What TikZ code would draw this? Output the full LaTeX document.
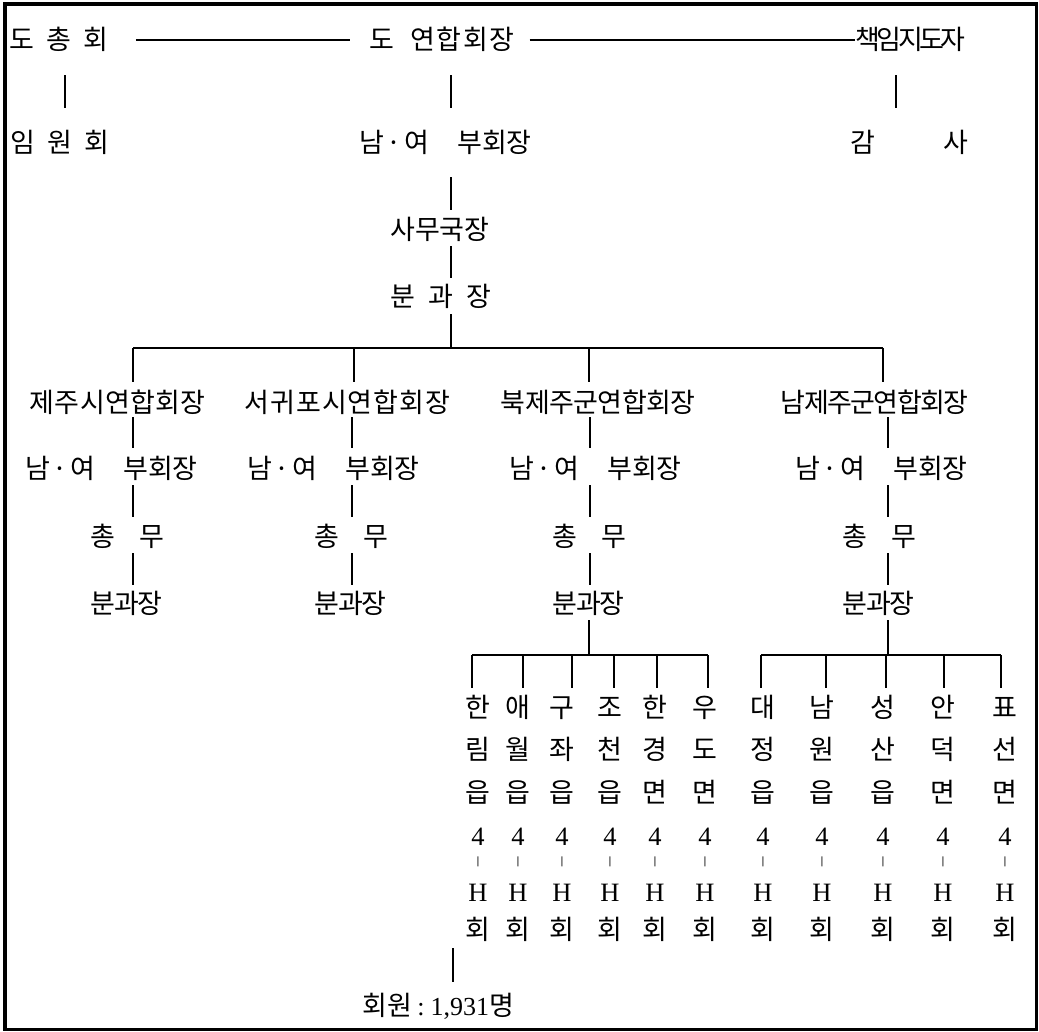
\documentclass[tikz,border=0pt]{standalone}
\usepackage{fontspec}
\setmainfont{Noto Sans CJK KR}
\newfontfamily\lat{Liberation Serif}
\newfontfamily\djv{DejaVu Sans}
\begin{document}
\begin{tikzpicture}[x=1pt,y=-1pt,
  lab/.style={inner sep=0pt, anchor=west, font=\fontsize{27}{30}\selectfont, text height=21pt, text depth=2pt},
  ch/.style={inner sep=0pt, font=\fontsize{27}{30}\selectfont, text height=21pt, text depth=2pt},
  la/.style={inner sep=0pt, font=\lat\fontsize{26.5}{30}\selectfont, text height=21pt, text depth=2pt},
  tick/.style={inner sep=0pt, font=\djv\fontsize{10}{12}\selectfont},
  con/.style={line width=1.3pt}]
\useasboundingbox (0,0) rectangle (1039,1032);
% frame
\draw[line width=3.5pt] (5,2.5) -- (5,1030.5);
\draw[line width=3.5pt] (3.5,4) -- (1037.5,4);
\draw[line width=2.5pt] (1036.5,2.5) -- (1036.5,1030.5);
\draw[line width=2.5pt] (3.5,1029.5) -- (1037.5,1029.5);
% top rows
\node[lab] (dch) at (9.6,40) {도\kern12pt총\kern12pt회};
\node[lab] (dyh) at (369.6,40) {도\kern16pt연\kern1.5pt합\kern1.5pt회\kern1.5pt장};
\node[lab] (cij) at (855.6,40) {책\kern-3.7pt임\kern-3.7pt지\kern-3.7pt도\kern-3.7pt자};
\node[lab] (iwh) at (10.6,143) {임\kern12pt원\kern12pt회};
\node[lab] (nyb) at (359.6,143) {남\kern2pt·\kern3.2pt여\hspace{28pt}부\kern-0.5pt회\kern-0.5pt장};
\node[lab] (gs) at (850.6,143) {감\kern68pt사};
\node[lab] (smk) at (390.6,230) {사\kern-0.3pt무\kern-0.3pt국\kern-0.3pt장};
\node[lab] (bgj) at (390.6,297) {분\kern13pt과\kern13pt장};
\draw[con, shorten <=27.4pt, shorten >=19.6pt] (dch.east) -- (dyh.west);
\draw[con, shorten <=15pt, shorten >=0.6pt] (dyh.east) -- (cij.west);
\coordinate (v1) at (65,0);
\coordinate (v2) at (451,0);
\coordinate (v3) at (896,0);
\draw[con, shorten <=23.5pt, shorten >=23.5pt] (v1 |- dch.south) -- (v1 |- iwh.north);
\draw[con, shorten <=23.5pt, shorten >=23.5pt] (v2 |- dyh.south) -- (v2 |- nyb.north);
\draw[con, shorten <=23.5pt, shorten >=23.5pt] (v3 |- cij.south) -- (v3 |- gs.north);
\draw[con, shorten <=22.5pt, shorten >=8.5pt] (v2 |- nyb.south) -- (v2 |- smk.north);
\draw[con, shorten <=4.5pt, shorten >=7.5pt] (v2 |- smk.south) -- (v2 |- bgj.north);
% main bar
\coordinate (tc) at (451,348);
\coordinate (t1) at (133,348);
\coordinate (t2) at (354,348);
\coordinate (t3) at (589,348);
\coordinate (t4) at (883,348);
\draw[con] (t1) -- (t4);
\draw[con, shorten >=5.5pt] (tc) -- (tc |- bgj.south);
% branches
\node[lab] (h1) at (29.6,403) {제\kern0.3pt주\kern0.3pt시\kern0.3pt연\kern0.3pt합\kern0.3pt회\kern0.3pt장};
\node[lab] (h2) at (244.3,403) {서\kern1pt귀\kern1pt포\kern1pt시\kern1pt연\kern1pt합\kern1pt회\kern1pt장};
\node[lab] (h3) at (500.6,403) {북\kern-0.6pt제\kern-0.6pt주\kern-0.6pt군\kern-0.6pt연\kern-0.6pt합\kern-0.6pt회\kern-0.6pt장};
\node[lab] (h4) at (780.6,403) {남\kern-1.6pt제\kern-1.6pt주\kern-1.6pt군\kern-1.6pt연\kern-1.6pt합\kern-1.6pt회\kern-1.6pt장};
\foreach \i/\xn/\xm/\cx/\tx in {1/25.6/90.6/133/t1, 2/247.6/314.6/352/t2, 3/509.6/552.6/590/t3, 4/795.6/842.6/888/t4}{
  \node[lab] (n\i) at (\xn,469) {남\kern2pt·\kern3.2pt여\hspace{28pt}부\kern-0.5pt회\kern-0.5pt장};
  \node[lab] (m\i) at (\xm,537) {총\kern24pt무};
  \node[lab] (f\i) at (\xm,604) {분\kern-1.5pt과\kern-1.5pt장};
  \coordinate (c\i) at (\cx,0);
  \draw[con, shorten >=9.5pt] (\tx) -- (\tx |- h\i.north);
  \draw[con, shorten <=2.5pt, shorten >=9.5pt] (c\i |- h\i.south) -- (c\i |- n\i.north);
  \draw[con, shorten <=4.5pt, shorten >=8.5pt] (c\i |- n\i.south) -- (c\i |- m\i.north);
  \draw[con, shorten <=4.5pt, shorten >=7.5pt] (c\i |- m\i.south) -- (c\i |- f\i.north);
}
% sub-branches
\coordinate (jb) at (589,655);
\coordinate (jn) at (888,655);
\draw[con, shorten >=4.5pt] (jb) -- (jb |- f3.south);
\draw[con, shorten >=4.5pt] (jn) -- (jn |- f4.south);
\foreach \x/\a/\b/\c/\dx [count=\i] in {478/한/림/읍/472, 518/애/월/읍/523, 562/구/좌/읍/572, 610/조/천/읍/614, 655/한/경/면/657, 705/우/도/면/708, 763/대/정/읍/761, 822/남/원/읍/826, 883/성/산/읍/886, 943/안/덕/면/944, 1005/표/선/면/1001}{
  \node[ch] (k\i-a) at (\x,708) {\a};
  \node[ch] (k\i-b) at (\x,750) {\b};
  \node[ch] (k\i-c) at (\x,793) {\c};
  \node[la] (k\i-d) at (\x,836) {4};
  \node[tick] (k\i-e) at (\x,862) {|};
  \node[la] (k\i-f) at (\x,892) {H};
  \node[ch] (k\i-g) at (\x,930) {회};
  \coordinate (j\i) at (\dx,655);
  \draw[con, shorten >=8.5pt] (j\i) -- (j\i |- k\i-a.north);
}
\draw[con] (j1) -- (j6);
\draw[con] (j7) -- (j11);
% members
\node[lab] (mem) at (362.6,1006) {회\kern0pt원\kern5pt{\lat\fontsize{26}{30}\selectfont :}\kern6pt{\lat\fontsize{26}{30}\selectfont 1,931}\kern0.5pt명};
\coordinate (v4) at (453,0);
\draw[con, shorten <=6.5pt, shorten >=12.5pt] (v4 |- k1-g.south) -- (v4 |- mem.north);
\end{tikzpicture}
\end{document}
